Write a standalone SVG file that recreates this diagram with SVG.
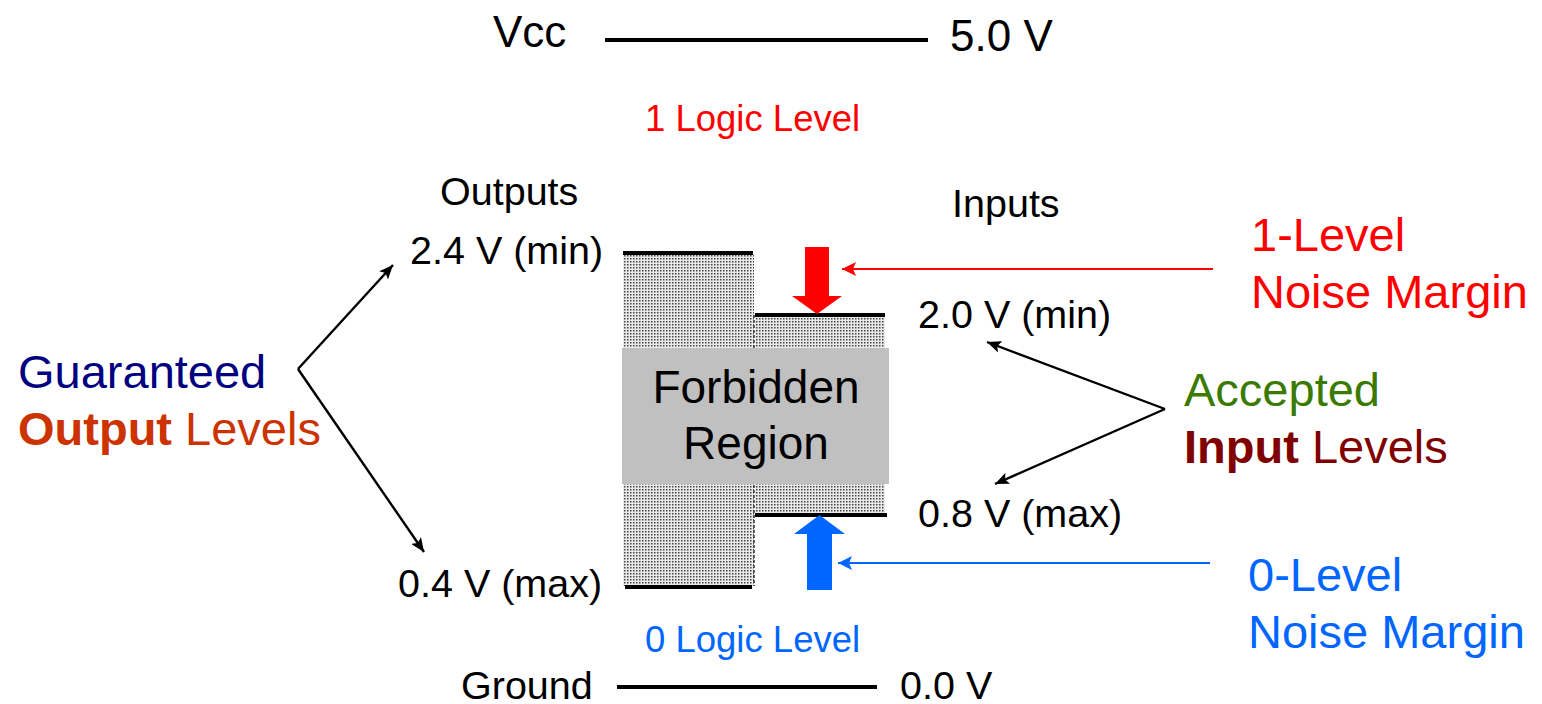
<svg xmlns="http://www.w3.org/2000/svg" width="1542" height="704" viewBox="0 0 1542 704">
<style>
  text { font-family: "Liberation Sans", Arial, sans-serif; }
  .lbl { font-size: 39.5px; fill: #000; }
  .big { font-size: 47px; }
  .lvl { stroke: #000; stroke-width: 4; }
  .conn { stroke: #000; stroke-width: 2.4; fill: none; }
</style>
<defs>
  <pattern id="stip" width="3" height="3" patternUnits="userSpaceOnUse">
    <rect width="3" height="3" fill="#eaeaea"/>
    <rect width="1.5" height="1.5" fill="#444"/>
  </pattern>
  <marker id="ahB" viewBox="0 0 14 12" refX="14" refY="6" markerWidth="14" markerHeight="12" markerUnits="userSpaceOnUse" orient="auto">
    <path d="M0,0 L14,6 L0,12 L3,6 Z" fill="#000"/>
  </marker>
  <marker id="ahR" viewBox="0 0 14 14" refX="14" refY="7" markerWidth="14" markerHeight="14" markerUnits="userSpaceOnUse" orient="auto">
    <path d="M0,0 L14,7 L0,14 L3,7 Z" fill="#ff0000"/>
  </marker>
  <marker id="ahU" viewBox="0 0 14 14" refX="14" refY="7" markerWidth="14" markerHeight="14" markerUnits="userSpaceOnUse" orient="auto">
    <path d="M0,0 L14,7 L0,14 L3,7 Z" fill="#0066ff"/>
  </marker>
</defs>
<rect width="1542" height="704" fill="#ffffff"/>

<g id="supply">
  <text x="493" y="47" style="font-size:44px">Vcc</text>
  <line class="lvl" x1="605" y1="40" x2="928" y2="40"/>
  <text x="950" y="51" style="font-size:44px">5.0 V</text>
</g>

<g id="ground">
  <text x="461" y="699" class="lbl">Ground</text>
  <line class="lvl" x1="617" y1="687" x2="877" y2="687"/>
  <text x="900" y="699" class="lbl">0.0 V</text>
</g>

<g id="logic-levels">
  <text x="645" y="131" style="font-size:36.5px" fill="#ff0000">1 Logic Level</text>
  <text x="645" y="652" style="font-size:36.5px" fill="#0066ff">0 Logic Level</text>
</g>

<g id="outputs">
  <rect x="623" y="255" width="131" height="331" fill="url(#stip)"/>
  <line x1="754" y1="315" x2="754" y2="586" stroke="#333" stroke-width="1.5" stroke-dasharray="3 2"/>
  <text x="440" y="205" class="lbl">Outputs</text>
  <text x="410" y="264" class="lbl">2.4 V (min)</text>
  <text x="398" y="597" class="lbl">0.4 V (max)</text>
  <line class="lvl" x1="623" y1="253" x2="753" y2="253"/>
  <line class="lvl" x1="625" y1="587" x2="752" y2="587"/>
</g>

<g id="inputs">
  <rect x="755" y="317" width="130" height="196" fill="url(#stip)"/>
  <text x="952" y="217" class="lbl">Inputs</text>
  <text x="918" y="328" class="lbl">2.0 V (min)</text>
  <text x="918" y="527" class="lbl">0.8 V (max)</text>
  <line class="lvl" x1="755" y1="315" x2="885" y2="315"/>
  <line class="lvl" x1="755" y1="515" x2="887" y2="515"/>
</g>

<g id="forbidden">
  <rect x="622" y="348" width="267" height="136" fill="#c0c0c0"/>
  <text x="756" y="403" text-anchor="middle" style="font-size:46px">Forbidden</text>
  <text x="756" y="459" text-anchor="middle" style="font-size:46px">Region</text>
</g>

<g id="noise-arrows">
  <path d="M805,247 H829 V296 H842 L817,314 L792,296 H805 Z" fill="#ff0000"/>
  <path d="M807,590 H832 V534 H845 L819.5,515 L794,534 H807 Z" fill="#0066ff"/>
</g>

<g id="guaranteed">
  <text x="18" y="388" class="big" fill="#000080">Guaranteed</text>
  <text x="18" y="445" class="big" fill="#cc3300"><tspan font-weight="bold">Output</tspan> Levels</text>
</g>

<g id="accepted">
  <text x="1184" y="406" class="big" fill="#3a7a00">Accepted</text>
  <text x="1184" y="463" class="big" fill="#800000"><tspan font-weight="bold">Input</tspan> Levels</text>
</g>

<g id="nm1">
  <text x="1251" y="251" class="big" fill="#ff0000">1-Level</text>
  <text x="1251" y="308" class="big" fill="#ff0000">Noise Margin</text>
</g>

<g id="nm0">
  <text x="1248" y="591" class="big" fill="#0066ff">0-Level</text>
  <text x="1248" y="648" class="big" fill="#0066ff">Noise Margin</text>
</g>

<g id="connectors">
  <line class="conn" x1="298" y1="369" x2="393" y2="265" marker-end="url(#ahB)"/>
  <line class="conn" x1="298" y1="369" x2="424" y2="552" marker-end="url(#ahB)"/>
  <line class="conn" x1="1165" y1="409" x2="987" y2="342" marker-end="url(#ahB)"/>
  <line class="conn" x1="1165" y1="409" x2="995" y2="484" marker-end="url(#ahB)"/>
  <line x1="1213" y1="269" x2="842" y2="269" stroke="#ff0000" stroke-width="2" marker-end="url(#ahR)"/>
  <line x1="1210" y1="563" x2="838" y2="563" stroke="#0066ff" stroke-width="2" marker-end="url(#ahU)"/>
</g>
</svg>
